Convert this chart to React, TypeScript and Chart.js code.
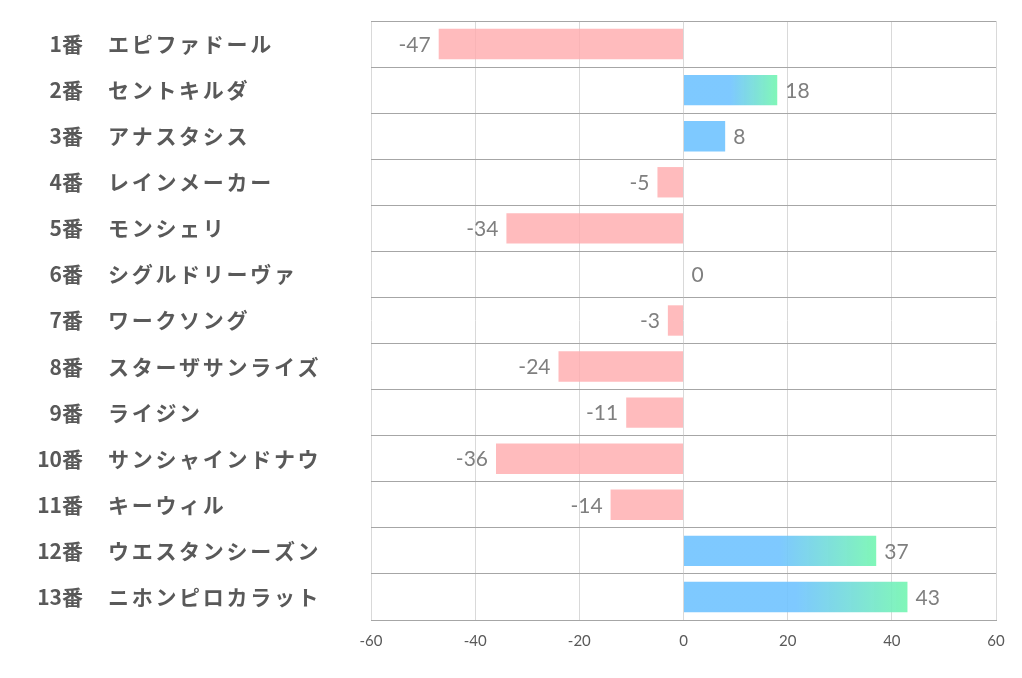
import React, { useEffect, useRef } from "react";
import { Chart, registerables } from "chart.js";

Chart.register(...registerables);

const numbers = ["1番", "2番", "3番", "4番", "5番", "6番", "7番", "8番", "9番", "10番", "11番", "12番", "13番"];
const names = [
  "エピファドール",
  "セントキルダ",
  "アナスタシス",
  "レインメーカー",
  "モンシェリ",
  "シグルドリーヴァ",
  "ワークソング",
  "スターザサンライズ",
  "ライジン",
  "サンシャインドナウ",
  "キーウィル",
  "ウエスタンシーズン",
  "ニホンピロカラット",
];
const values = [-47, 18, 8, -5, -34, 0, -3, -24, -11, -36, -14, 37, 43];
const xTicks = [-60, -40, -20, 0, 20, 40, 60];

const PINK = "rgba(255,172,175,0.82)";
const BLUE = "rgba(112,195,255,0.9)";
const GREEN = "rgba(118,246,178,0.92)";

const yLabelPlugin = {
  id: "yLabels",
  afterDraw(chart: any) {
    const ctx = chart.ctx;
    const ys = chart.scales.y;
    ctx.save();
    ctx.fillStyle = "#595959";
    ctx.font = "bold 21px 'Noto Sans CJK JP', sans-serif";
    ctx.textBaseline = "middle";
    numbers.forEach((n, i) => {
      const y = ys.getPixelForValue(i);
      (ctx as any).letterSpacing = "0px";
      ctx.textAlign = "right";
      ctx.fillText(n, 83, y);
      (ctx as any).letterSpacing = "2.7px";
      ctx.textAlign = "left";
      ctx.fillText(names[i], 108, y);
    });
    (ctx as any).letterSpacing = "0px";
    ctx.restore();
  },
};

const valueLabelPlugin = {
  id: "valueLabels",
  afterDatasetsDraw(chart: any) {
    const ctx = chart.ctx;
    const meta = chart.getDatasetMeta(0);
    ctx.save();
    ctx.fillStyle = "#7f7f7f";
    ctx.font = "21px Lato, 'Open Sans', sans-serif";
    ctx.textBaseline = "middle";
    meta.data.forEach((el: any, i: number) => {
      const v = values[i];
      if (v >= 0) {
        ctx.textAlign = "left";
        ctx.fillText(String(v), el.x + 8, el.y + 1);
      } else {
        ctx.textAlign = "right";
        ctx.fillText(String(v), el.x - 8, el.y + 1);
      }
    });
    ctx.restore();
  },
};

export default function App() {
  const ref = useRef<HTMLCanvasElement>(null);
  useEffect(() => {
    if (!ref.current) return;
    const chart = new Chart(ref.current, {
      type: "bar",
      data: {
        labels: names,
        datasets: [
          {
            data: values,
            barPercentage: 0.66,
            categoryPercentage: 1,
            backgroundColor: (c: any) => {
              const v = c.raw as number;
              if (v < 0) return PINK;
              const ch = c.chart;
              const area = ch.chartArea;
              if (!area || v < 10) return BLUE;
              const xs = ch.scales.x;
              const x0 = xs.getPixelForValue(0);
              const x1 = xs.getPixelForValue(v);
              const g = ch.ctx.createLinearGradient(x0, 0, x1, 0);
              g.addColorStop(0, BLUE);
              g.addColorStop(0.5, BLUE);
              g.addColorStop(1, GREEN);
              return g;
            },
            borderWidth: 0,
          },
        ],
      },
      options: {
        indexAxis: "y",
        animation: false,
        responsive: true,
        maintainAspectRatio: false,
        layout: { padding: { left: 0, right: 26, top: 21, bottom: 0 } },
        plugins: { legend: { display: false }, tooltip: { enabled: false } },
        scales: {
          x: {
            min: -60,
            max: 60,
            afterBuildTicks: (s: any) => {
              s.ticks = xTicks.map((v) => ({ value: v }));
            },
            afterFit: (s: any) => {
              s.height = 58;
            },
            grid: { color: "#d9d9d9", drawTicks: false },
            border: { color: "#a6a6a6" },
            ticks: {
              color: "#595959",
              font: { family: "Lato, 'Open Sans', sans-serif", size: 15 },
              padding: 12,
            },
          },
          y: {
            afterFit: (s: any) => {
              s.width = 371;
            },
            grid: { color: "#a6a6a6", drawTicks: false, offset: true },
            border: { display: false },
            ticks: { display: false },
          },
        },
      },
      plugins: [yLabelPlugin, valueLabelPlugin],
    } as any);
    return () => chart.destroy();
  }, []);
  return (
    <div style={{ position: "fixed", left: 0, top: 0, width: 1022, height: 678, background: "#fff" }}>
      <canvas ref={ref} />
    </div>
  );
}
